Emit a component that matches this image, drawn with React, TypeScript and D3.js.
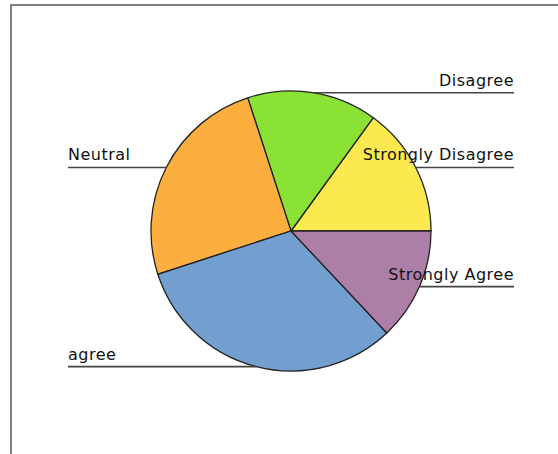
import React from "react";
import * as d3 from "d3";

const categories = ["Strongly Disagree", "Disagree", "Neutral", "agree", "Strongly Agree"];
const values = [15, 15, 25, 32, 13];
const colors = ["#fce94f", "#8ae234", "#fcaf3e", "#729fcf", "#ad7fa8"];

export default function App() {
  const W = 558, H = 454;
  const cx = 291, cy = 231, r = 140;
  const pie = d3
    .pie<number>()
    .sort(null)
    .startAngle(Math.PI / 2)
    .endAngle(Math.PI / 2 - 2 * Math.PI)(values);
  const arc = d3.arc<d3.PieArcDatum<number>>().innerRadius(0).outerRadius(r);
  const leftX = 68, rightX = 514;
  return (
    <svg width={W} height={H} style={{ position: "absolute", left: 0, top: 0 }}>
      <rect x={11} y={5} width={W + 20} height={H + 20} fill="#fff" stroke="#808080" strokeWidth={2} />
      <g transform={`translate(${cx},${cy})`}>
        {pie.map((d, i) => (
          <path key={i} d={arc(d) || ""} fill={colors[i]} stroke="#222" strokeWidth={1.3} />
        ))}
      </g>
      {pie.map((d, i) => {
        const a = (d.startAngle + d.endAngle) / 2;
        const px = cx + r * Math.sin(a);
        const py = cy - r * Math.cos(a);
        const right = px > cx;
        const x1 = right ? px : leftX;
        const x2 = right ? rightX : px;
        return (
          <g key={"l" + i}>
            <line x1={x1} x2={x2} y1={py} y2={py} stroke="#444" strokeWidth={1.6} />
            <text
              x={right ? rightX : leftX}
              y={py - 7}
              textAnchor={right ? "end" : "start"}
              fontFamily="DejaVu Sans"
              fontSize={16}
              letterSpacing={0.5}
              fill="#111"
            >
              {categories[i]}
            </text>
          </g>
        );
      })}
    </svg>
  );
}
